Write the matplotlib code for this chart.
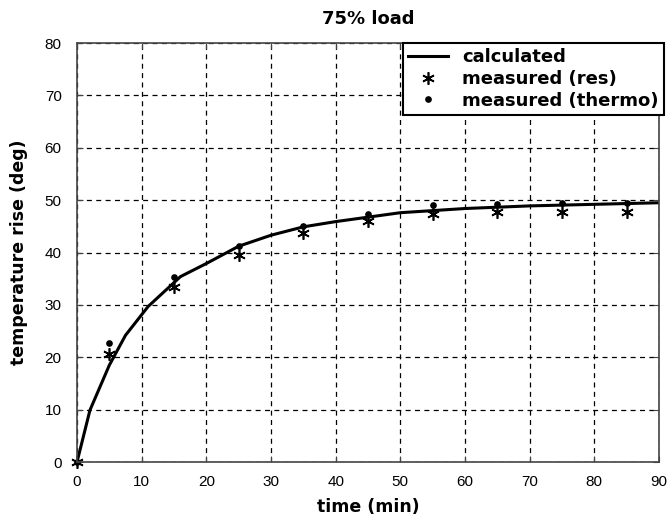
import matplotlib.pyplot as plt

# calculated curve
t_calc = [0, 2, 5, 7.5, 11, 16, 20, 25, 30, 35, 40, 50, 60, 70, 80, 90]
rise_calc = [0, 9.9, 18.5, 24.2, 29.7, 35.4, 37.9, 41.2, 43.3, 44.9, 45.9, 47.6, 48.4, 48.9, 49.2, 49.5]

# measurements
t_meas = [0, 5, 15, 25, 35, 45, 55, 65, 75, 85]
rise_res = [0, 20.7, 33.5, 39.5, 43.8, 46.0, 47.3, 47.8, 47.8, 47.8]
rise_thermo = [0, 22.8, 35.3, 41.3, 45.1, 47.3, 49.0, 49.2, 49.4, 49.4]

xticks = list(range(0, 91, 10))
yticks = list(range(0, 81, 10))

plt.rcParams['font.family'] = ['Liberation Sans', 'DejaVu Sans']
bold = {'family': 'DejaVu Sans', 'weight': 'bold'}

fig = plt.figure(figsize=(6.68, 5.2), dpi=100)
ax = fig.add_axes([0.1153, 0.1115, 0.8712, 0.8058])

ax.plot(t_calc, rise_calc, color='black', lw=2.2, label='calculated')
ax.plot(t_meas, rise_res, linestyle='none', marker=(6, 2, 0), ms=9, mew=1.2,
        color='black', clip_on=False, label='measured (res)')
ax.plot(t_meas, rise_thermo, linestyle='none', marker='o', ms=3.8,
        color='black', clip_on=False, label='measured (thermo)')

ax.set_xlim(0, 90)
ax.set_ylim(0, 80)
ax.set_xticks(xticks)
ax.set_yticks(yticks)
ax.grid(True, color='black', linestyle=(0, (4, 3.5)), linewidth=0.9)
ax.tick_params(direction='in', top=True, right=True, length=4,
               labelsize=11, color='#444444')
ax.tick_params(axis='x', pad=9)
ax.tick_params(axis='y', pad=11)
for s in ax.spines.values():
    s.set_color('#444444')
    s.set_linewidth(1.2)

ax.set_title('75% load', fontdict=bold, fontsize=13, pad=14)
ax.set_xlabel('time (min)', fontdict=bold, fontsize=12.5, labelpad=7)
ax.set_ylabel('temperature rise (deg)', fontdict=bold, fontsize=12.5, labelpad=12)

leg = ax.legend(loc='upper right', bbox_to_anchor=(1.009, 1.0), borderaxespad=0,
                fancybox=False, framealpha=1, edgecolor='black',
                prop={'family': 'DejaVu Sans', 'weight': 'bold', 'size': 13},
                handlelength=2.2, labelspacing=0.2, borderpad=0.3)
leg.get_frame().set_linewidth(1.5)

fig.savefig('out.png', dpi=100)
